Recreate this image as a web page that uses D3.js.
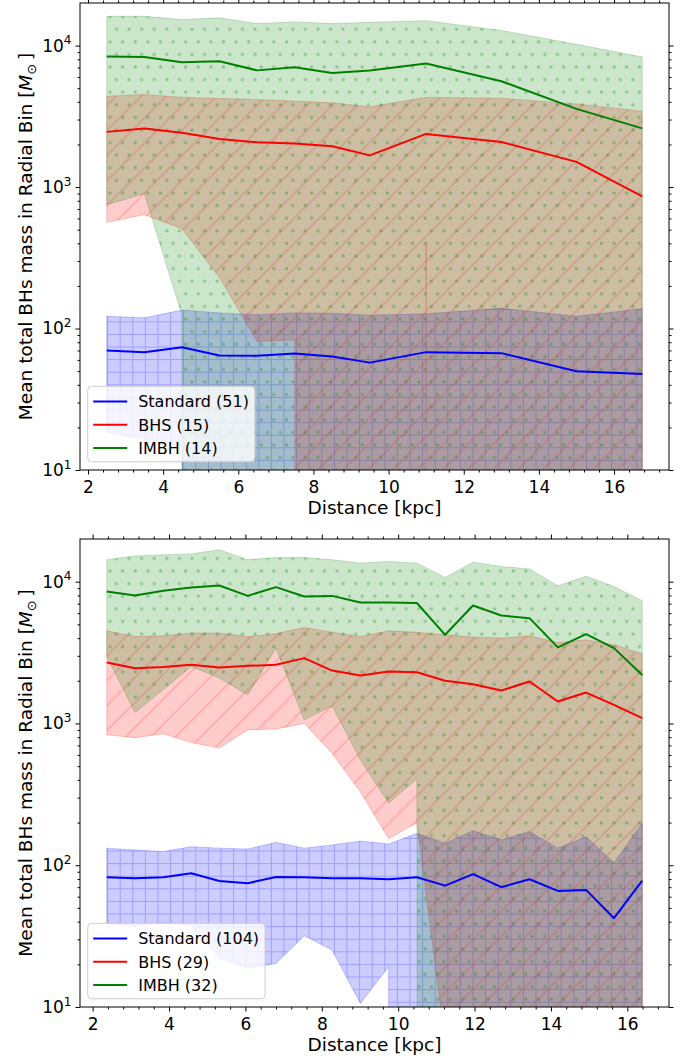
<!DOCTYPE html>
<html><head><meta charset="utf-8">
<script src="https://cdn.jsdelivr.net/npm/d3@7"></script>
<style>
body{margin:0;background:#fff}
svg{display:block}
text{font-family:"DejaVu Sans",sans-serif;fill:#000}
</style>
</head><body>
<svg id="chart" width="691" height="1059"></svg>
<script>
// ---------------- DATA ----------------
// Top panel
const xTop = [2.5, 3.5, 4.5, 5.5, 6.5, 7.5, 8.5, 9.5, 11, 13, 15, 16.75];
const stdMeanTop  = [69.8, 68.1, 73.8, 64.4, 64.2, 66.5, 63.4, 57.4, 68.1, 67.0, 49.9, 47.8];
const stdHighTop  = [122, 119, 135, 129, 125, 129, 128, 124, 127, 139, 122, 138];
const stdLowTop   = [18.4, 16.5, 15, 0, 0, 0, 0, 0, 0, 0, 0, 0];
const bhsMeanTop  = [2455, 2590, 2416, 2189, 2072, 2030, 1943, 1675, 2375, 2083, 1507, 859];
const bhsHighTop  = [4390, 4510, 4310, 4225, 4160, 4050, 3940, 3690, 4310, 4245, 3870, 3435];
const bhsLowTop   = [563, 638, 508, 229, 81, 83, 0, 0, 404, 0, 0, 0];
const imbhMeanTop = [8360, 8300, 7620, 7750, 6680, 7030, 6410, 6660, 7460, 5600, 3570, 2600];
const imbhHighTop = [16100, 16100, 15270, 15700, 14300, 14700, 14300, 14600, 15000, 12800, 10200, 8320];
const imbhLowTop  = [750, 898, 125, 0, 0, 0, 0, 0, 0, 0, 0, 0];
const legendTop   = ["Standard (51)", "BHS (15)", "IMBH (14)"];

// Bottom panel
const xBot = [2.37, 3.11, 3.85, 4.58, 5.32, 6.06, 6.80, 7.54, 8.27, 9.01, 9.75, 10.49, 11.23, 11.96, 12.70, 13.44, 14.18, 14.92, 15.65, 16.39];
const stdMeanBot  = [82.3, 80.9, 82.3, 87.9, 77.4, 74.7, 82.6, 82.3, 80.9, 80.9, 79.6, 82.3, 71.8, 86.5, 70.0, 79.6, 65.9, 67.0, 42.3, 77.8];
const stdHighBot  = [132, 128, 125, 135, 132, 130, 145, 132, 139, 148, 141, 168, 143, 175, 151, 173, 132, 159, 104, 198];
const stdLowBot   = [39, 36.9, 39.4, 37.9, 22.1, 18.8, 20.3, 31.8, 25.2, 10.6, 19.2, 0, 0, 0, 0, 0, 0, 0, 0, 0];
const bhsMeanBot  = [2690, 2455, 2505, 2592, 2483, 2548, 2592, 2890, 2360, 2178, 2323, 2300, 2000, 1893, 1706, 1977, 1429, 1652, 1352, 1090];
const bhsHighBot  = [4500, 4100, 4150, 4340, 4340, 4100, 4290, 4750, 4400, 4100, 4500, 4390, 4220, 4065, 4000, 4150, 3720, 3890, 3590, 3100];
const bhsLowBot   = [832, 794, 845, 733, 670, 900, 915, 1000, 615, 329, 154, 199, 5.6, 0, 0, 0, 0, 0, 0, 0];
const imbhMeanBot = [8530, 8000, 8630, 9100, 9400, 7940, 9160, 7870, 7940, 7130, 7130, 7070, 4220, 6790, 5770, 5530, 3440, 4270, 3400, 2200];
const imbhHighBot = [14300, 15200, 15500, 15700, 16800, 14300, 14800, 14800, 14300, 13500, 13900, 13500, 10700, 13700, 12800, 12300, 9350, 10900, 9250, 7330];
const imbhLowBot  = [2970, 1194, 1733, 2520, 2090, 1590, 3400, 1060, 1330, 553, 274, 406, 0, 0, 0, 0, 0, 0, 0, 0];
const legendBot   = ["Standard (104)", "BHS (29)", "IMBH (32)"];

// Axis ticks
const xMajorTicks = [2, 4, 6, 8, 10, 12, 14, 16];
const yMajorTicks = [10, 100, 1000, 10000];
const yLimits = [10, 20000];
const xLabel = "Distance [kpc]";
const yLabel = "Mean total BHs mass in Radial Bin [";

// ---------------- DRAWING ----------------
const FLOOR = 1e-200;            // non-positive values are clipped like matplotlib's log axis
const COLORS = {std: "#0000ff", bhs: "#ff0000", imbh: "#008000"};

const svg = d3.select("#chart");
const defs = svg.append("defs");

// hatch patterns
(function patterns(){
  const g = defs.append("pattern").attr("id", "hGrid")
    .attr("patternUnits", "userSpaceOnUse").attr("width", 12.6).attr("height", 12.6)
    .attr("x", 0.5).attr("y", 0.5);
  g.append("path").attr("d", "M0,6.3H12.6M6.3,0V12.6")
    .attr("stroke", COLORS.std).attr("stroke-opacity", 0.22).attr("stroke-width", 1).attr("fill", "none");

  const sp = 25 / Math.SQRT2;
  const d = defs.append("pattern").attr("id", "hDiag")
    .attr("patternUnits", "userSpaceOnUse").attr("width", sp).attr("height", 40)
    .attr("patternTransform", "rotate(45)");
  d.append("line").attr("x1", sp / 2).attr("x2", sp / 2).attr("y1", -1).attr("y2", 41)
    .attr("stroke", COLORS.bhs).attr("stroke-opacity", 0.28).attr("stroke-width", 1);

  const p = defs.append("pattern").attr("id", "hDots")
    .attr("patternUnits", "userSpaceOnUse").attr("width", 12.6).attr("height", 25.2)
    .attr("x", 3).attr("y", 4);
  [[0,0],[12.6,0],[0,25.2],[12.6,25.2],[6.3,12.6]].forEach(([cx,cy]) =>
    p.append("circle").attr("cx", cx).attr("cy", cy).attr("r", 1.7)
      .attr("fill", COLORS.imbh).attr("fill-opacity", 0.3));
})();

function drawPanel(cfg) {
  const g = svg.append("g");
  const [a, b] = d3.extent(cfg.x);
  const m = (b - a) * 0.05;
  const x = d3.scaleLinear().domain([a - m, b + m]).range([cfg.left, cfg.right]);
  const y = d3.scaleLog().domain(yLimits).range([cfg.bottom, cfg.top]);

  const clipId = "clip" + cfg.id;
  defs.append("clipPath").attr("id", clipId).append("rect")
    .attr("x", cfg.left).attr("y", cfg.top)
    .attr("width", cfg.right - cfg.left).attr("height", cfg.bottom - cfg.top);
  const plot = g.append("g").attr("clip-path", `url(#${clipId})`);

  const area = d3.area()
    .x(d => x(d.x))
    .y0(d => y(Math.max(d.lo, FLOOR)))
    .y1(d => y(d.hi));

  cfg.series.forEach(s => {
    const rows = cfg.x.map((xv, i) => ({x: xv, lo: s.low[i], hi: s.high[i]}));
    const dPath = area(rows);
    plot.append("path").attr("d", dPath).attr("fill", s.color).attr("fill-opacity", 0.2);
    plot.append("path").attr("d", dPath).attr("fill", `url(#${s.pattern})`);
    plot.append("path").attr("d", dPath).attr("fill", "none")
      .attr("stroke", s.color).attr("stroke-opacity", 0.2).attr("stroke-width", 1);
  });

  const line = d3.line().x(d => x(d.x)).y(d => y(d.v));
  cfg.series.forEach(s => {
    const rows = cfg.x.map((xv, i) => ({x: xv, v: s.mean[i]}));
    plot.append("path").attr("d", line(rows)).attr("fill", "none")
      .attr("stroke", s.color).attr("stroke-width", 2).attr("stroke-linejoin", "round");
  });

  // frame
  g.append("rect").attr("x", cfg.left).attr("y", cfg.top)
    .attr("width", cfg.right - cfg.left).attr("height", cfg.bottom - cfg.top)
    .attr("fill", "none").attr("stroke", "#000").attr("stroke-width", 1);

  // ticks
  const [d0, d1] = x.domain();
  const xMinor = d3.range(Math.ceil(d0 / 0.4) * 0.4, d1, 0.4)
    .filter(v => Math.abs(v / 2 - Math.round(v / 2)) > 1e-6);
  const yMinor = [];
  [10, 100, 1000, 10000].forEach(dec => { for (let k = 2; k <= 9; k++) if (dec * k < yLimits[1]) yMinor.push(dec * k); });

  function styleAxis(sel) {
    sel.select(".domain").remove();
    sel.selectAll(".tick line").attr("stroke", "#000").attr("stroke-width", 1);
    sel.selectAll("text").attr("font-size", 17).attr("font-family", "DejaVu Sans").attr("fill", "#000");
  }

  const gxB = g.append("g").attr("transform", `translate(0,${cfg.bottom})`)
    .call(d3.axisBottom(x).tickValues(xMajorTicks).tickSize(4.5).tickPadding(6.5).tickFormat(d3.format("d")));
  styleAxis(gxB);
  const gxBm = g.append("g").attr("transform", `translate(0,${cfg.bottom})`)
    .call(d3.axisBottom(x).tickValues(xMinor).tickSize(2.5).tickFormat(""));
  styleAxis(gxBm);
  const gxT = g.append("g").attr("transform", `translate(0,${cfg.top})`)
    .call(d3.axisTop(x).tickValues(xMajorTicks).tickSize(4.5).tickFormat(""));
  styleAxis(gxT);
  const gxTm = g.append("g").attr("transform", `translate(0,${cfg.top})`)
    .call(d3.axisTop(x).tickValues(xMinor).tickSize(2.5).tickFormat(""));
  styleAxis(gxTm);

  const gyL = g.append("g").attr("transform", `translate(${cfg.left},0)`)
    .call(d3.axisLeft(y).tickValues(yMajorTicks).tickSize(4.5).tickPadding(4));
  styleAxis(gyL);
  gyL.selectAll(".tick text").each(function(v) {
    const t = d3.select(this).text("");
    t.append("tspan").text("10");
    t.append("tspan").attr("font-size", 12).attr("dy", "-0.62em").text(Math.round(Math.log10(v)));
  });
  const gyLm = g.append("g").attr("transform", `translate(${cfg.left},0)`)
    .call(d3.axisLeft(y).tickValues(yMinor).tickSize(2.5).tickFormat(""));
  styleAxis(gyLm);
  const gyR = g.append("g").attr("transform", `translate(${cfg.right},0)`)
    .call(d3.axisRight(y).tickValues(yMajorTicks).tickSize(4.5).tickFormat(""));
  styleAxis(gyR);
  const gyRm = g.append("g").attr("transform", `translate(${cfg.right},0)`)
    .call(d3.axisRight(y).tickValues(yMinor).tickSize(2.5).tickFormat(""));
  styleAxis(gyRm);

  // axis labels
  g.append("text").attr("x", (cfg.left + cfg.right) / 2).attr("y", cfg.bottom + 43.5)
    .attr("text-anchor", "middle").attr("font-size", 18.5).text(xLabel);
  const yl = g.append("text")
    .attr("transform", `translate(31.5,${(cfg.top + cfg.bottom) / 2}) rotate(-90)`)
    .attr("text-anchor", "middle").attr("font-size", 18.5);
  yl.append("tspan").text(yLabel);
  yl.append("tspan").attr("font-style", "italic").text("M");
  yl.append("tspan").attr("font-size", 13).attr("dy", 4).text("\u2299");
  yl.append("tspan").attr("dy", -4).text("\u2009]");

  // legend
  const lx = cfg.left + 7.7, lh = 75.5;
  const ly = cfg.bottom - 8.2 - lh;
  const lg = g.append("g");
  const box = lg.append("rect").attr("x", lx).attr("y", ly).attr("height", lh)
    .attr("rx", 4).attr("ry", 4).attr("fill", "#fff").attr("fill-opacity", 0.8)
    .attr("stroke", "#cccccc").attr("stroke-width", 1);
  let maxW = 0;
  cfg.series.forEach((s, i) => {
    const cy = ly + 15.2 + i * 23.3;
    lg.append("line").attr("x1", lx + 5.5).attr("x2", lx + 39.5).attr("y1", cy).attr("y2", cy)
      .attr("stroke", s.color).attr("stroke-width", 2);
    const t = lg.append("text").attr("x", lx + 50.5).attr("y", cy).attr("dy", "0.36em")
      .attr("font-size", 16).text(s.label);
    maxW = Math.max(maxW, t.node().getComputedTextLength());
  });
  box.attr("width", 50.5 + maxW + 6);
}

drawPanel({
  id: "top", left: 80, right: 669, top: 3, bottom: 470, x: xTop,
  series: [
    {label: legendTop[0], color: COLORS.std,  pattern: "hGrid", mean: stdMeanTop,  low: stdLowTop,  high: stdHighTop},
    {label: legendTop[1], color: COLORS.bhs,  pattern: "hDiag", mean: bhsMeanTop,  low: bhsLowTop,  high: bhsHighTop},
    {label: legendTop[2], color: COLORS.imbh, pattern: "hDots", mean: imbhMeanTop, low: imbhLowTop, high: imbhHighTop}
  ]
});
drawPanel({
  id: "bot", left: 80, right: 669, top: 539, bottom: 1007, x: xBot,
  series: [
    {label: legendBot[0], color: COLORS.std,  pattern: "hGrid", mean: stdMeanBot,  low: stdLowBot,  high: stdHighBot},
    {label: legendBot[1], color: COLORS.bhs,  pattern: "hDiag", mean: bhsMeanBot,  low: bhsLowBot,  high: bhsHighBot},
    {label: legendBot[2], color: COLORS.imbh, pattern: "hDots", mean: imbhMeanBot, low: imbhLowBot, high: imbhHighBot}
  ]
});
</script>
</body></html>
